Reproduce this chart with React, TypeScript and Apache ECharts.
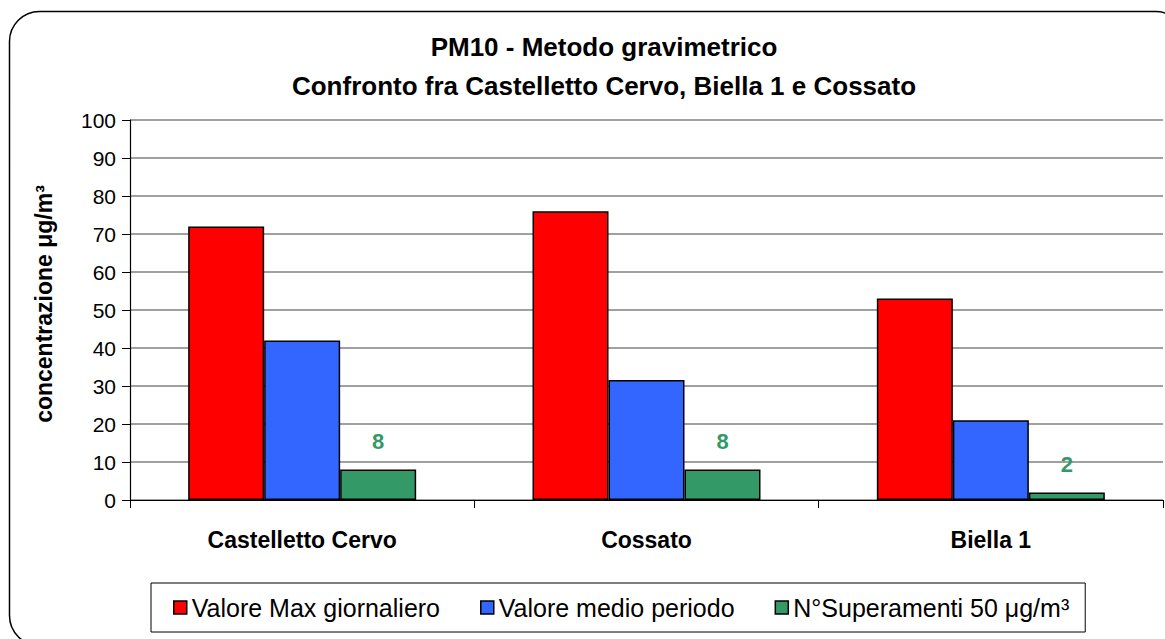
import React, { useEffect, useRef } from "react";
import * as echarts from "echarts";

const categories = ["Castelletto Cervo", "Cossato", "Biella 1"];
const seriesNames = ["Valore Max giornaliero", "Valore medio periodo", "N°Superamenti 50 μg/m³"];
const maxValues = [72, 76, 53];
const meanValues = [42, 31.6, 21];
const exceedances = [8, 8, 2];
const seriesColors = ["#FF0000", "#3366FF", "#339966"];
const titleLines = ["PM10 - Metodo gravimetrico", "Confronto fra Castelletto Cervo, Biella 1 e Cossato"];
const yAxisName = "concentrazione μg/m³";

const FONT = "'Liberation Sans', Arial, sans-serif";

export default function App() {
  const ref = useRef<HTMLDivElement>(null);
  useEffect(() => {
    if (!ref.current) return;
    const chart = echarts.init(ref.current, null, { renderer: "svg" });
    const values = [maxValues, meanValues, exceedances];
    chart.setOption({
      animation: false,
      backgroundColor: "#fff",
      textStyle: { fontFamily: FONT },
      title: {
        text: titleLines.join("\n"),
        left: 599,
        textAlign: "center",
        top: 22,
        textStyle: { fontSize: 26, fontWeight: "bold", color: "#000", lineHeight: 39, fontFamily: FONT },
      },
      graphic: [
        {
          type: "rect",
          shape: { x: 9.5, y: 11.5, width: 1176, height: 634, r: 30 },
          style: { fill: "none", stroke: "#000", lineWidth: 1.5 },
          silent: true,
          z: 100,
        },
      ],
      legend: {
        left: 151,
        top: 583,
        padding: [12, 16, 12, 22],
        borderColor: "#000",
        borderWidth: 1,
        itemWidth: 13,
        itemHeight: 13,
        itemGap: 40,
        icon: "rect",
        data: seriesNames,
        itemStyle: { borderColor: "#000", borderWidth: 1.5 },
        textStyle: { fontSize: 25, lineHeight: 25, color: "#000", fontFamily: FONT, padding: [0, 0, 0, 0] },
      },
      grid: { left: 130, top: 120, right: 2, bottom: 139, containLabel: false },
      xAxis: {
        type: "category",
        data: categories,
        axisLine: { lineStyle: { color: "#000", width: 1.2 } },
        axisTick: { show: true, length: 8, lineStyle: { color: "#000" } },
        axisLabel: { fontSize: 23, fontWeight: "bold", color: "#000", margin: 28, fontFamily: FONT },
      },
      yAxis: {
        type: "value",
        min: 0,
        max: 100,
        interval: 10,
        name: yAxisName,
        nameLocation: "middle",
        nameGap: 75,
        nameRotate: 90,
        nameTextStyle: { fontSize: 23, fontWeight: "bold", color: "#000", fontFamily: FONT, padding: [0, 0, 0, 12] },
        axisLine: { show: true, lineStyle: { color: "#000", width: 1.2 } },
        axisTick: { show: true, length: 8, lineStyle: { color: "#000" } },
        axisLabel: { fontSize: 21, color: "#000", margin: 14, fontFamily: FONT },
        splitLine: { show: true, lineStyle: { color: "#808080", width: 1.5 } },
      },
      series: seriesNames.map((name, i) => ({
        name,
        type: "bar",
        data: values[i],
        barWidth: 76,
        barGap: "0%",
        itemStyle: { color: seriesColors[i], borderColor: "#000", borderWidth: 1.5 },
        label:
          i === 2
            ? {
                show: true,
                position: "top",
                distance: 17,
                fontSize: 22,
                fontWeight: "bold",
                color: "#339966",
                fontFamily: FONT,
              }
            : { show: false },
      })),
    });
    return () => chart.dispose();
  }, []);
  return (
    <div
      ref={ref}
      style={{ position: "fixed", left: 0, top: 0, width: 1165, height: 639 }}
    />
  );
}
